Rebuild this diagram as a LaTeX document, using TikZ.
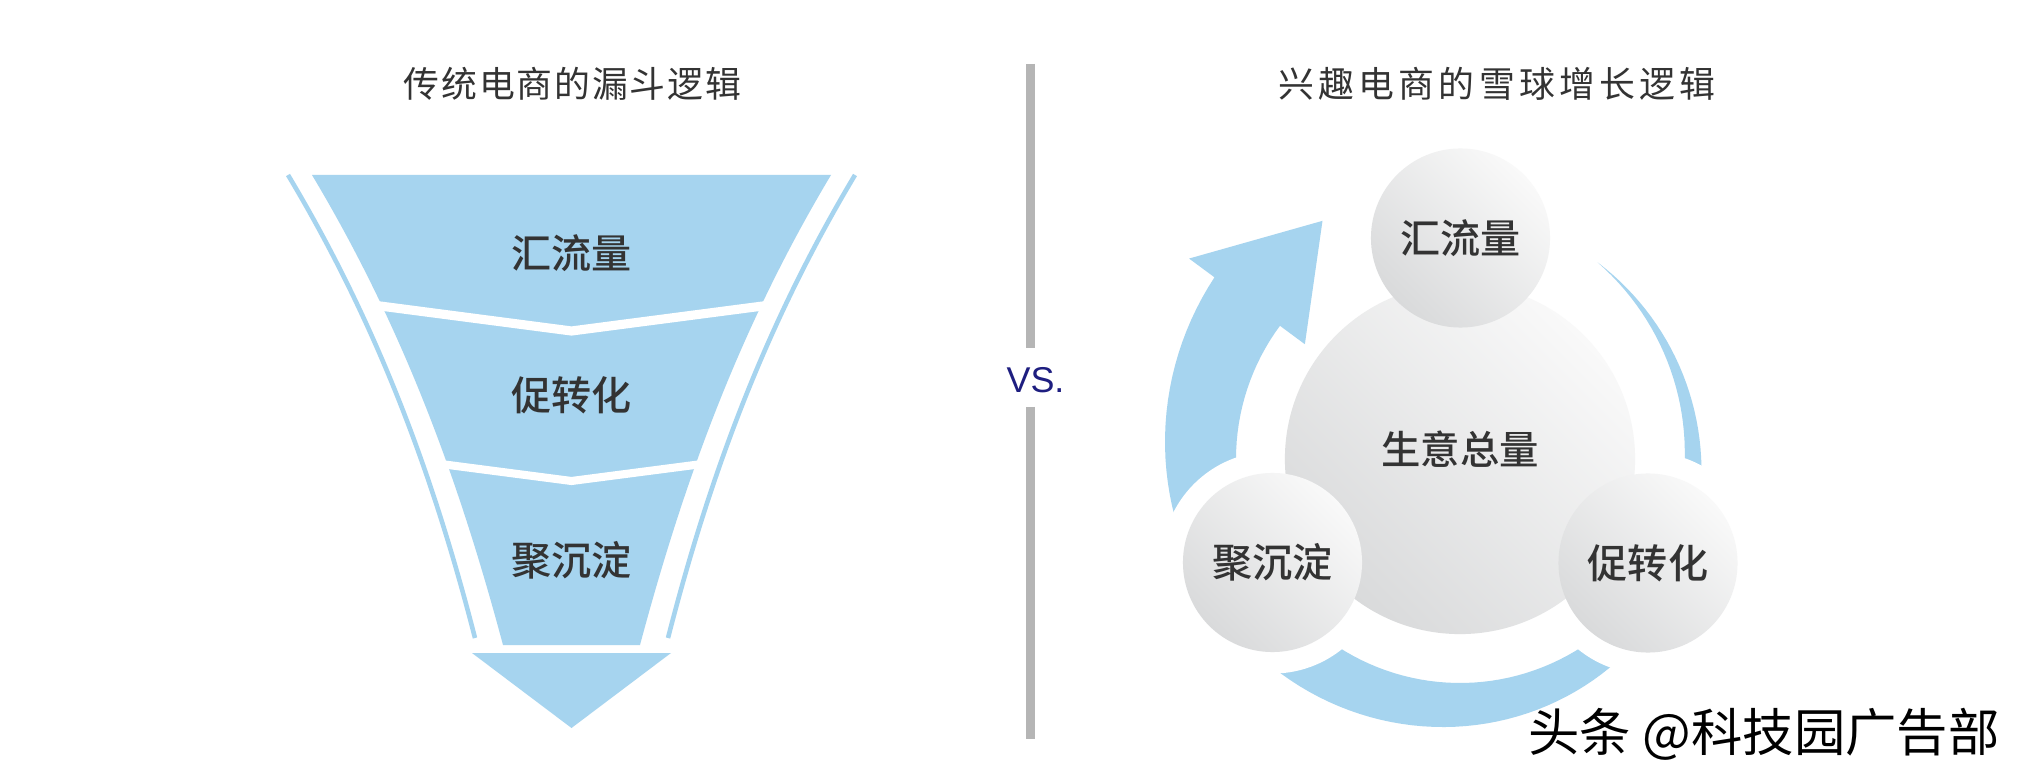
\documentclass[tikz,border=0pt]{standalone}
\usepackage{fontspec}
\setmainfont{Liberation Sans}
\newfontfamily\cjk[BoldFont={* Medium}]{Noto Sans CJK SC}
\newfontfamily\cjktitle[LetterSpace=5]{Noto Sans CJK SC}
\newfontfamily\cjkwide[LetterSpace=12]{Noto Sans CJK SC}
\usepackage{tikz}
\definecolor{flowblue}{RGB}{166,212,239}
\definecolor{inkgray}{RGB}{51,51,51}
\definecolor{bargray}{RGB}{181,181,181}
\definecolor{vsblue}{RGB}{30,30,128}
\definecolor{balllight}{RGB}{249,249,249}
\definecolor{balldark}{RGB}{217,218,219}

\begin{document}
\begin{tikzpicture}[
			x=0.01cm, y=-0.01cm,
			title/.style={text=inkgray, font=\cjktitle\fontsize{10.2pt}{12pt}\selectfont},
			layer/.style={text=inkgray, font=\cjk\bfseries\fontsize{11.4pt}{13pt}\selectfont},
			bubble/.style={circle, inner sep=0pt, minimum size=1.79cm, top color=balllight, bottom color=balldark, shading angle=-45, text=inkgray, font=\cjk\bfseries\fontsize{11.4pt}{13pt}\selectfont},
			gapdisc/.style={circle, fill=white, inner sep=0pt, minimum size=2.22cm},
			divider/.style={bargray, line width=2.6pt},
			rim/.style={flowblue, line width=1.3pt}
			]
			\fill[white] (0,0) rectangle (2026,782);
			\useasboundingbox (0,0) rectangle (2026,782);
			
			% left: funnel
			\node[title] (funneltitle) at (572.5,84) {传统电商的漏斗逻辑};
			\fill[flowblue] (312,175) -- (831,175) .. controls (737,332) and (682,488) .. (640,645) -- (503,645) .. controls (461,488) and (406,332) .. (312,175) -- cycle;
			\draw[white, line width=2.6pt] (374,305.2) -- (571.5,331) -- (769,305.2);
			\draw[white, line width=2.3pt] (438.5,463.7) -- (571.5,481) -- (704.5,463.7);
			\fill[flowblue] (472,653) -- (671,653) -- (571.5,728) -- cycle;
			\draw[rim] (288,175) .. controls (382,332) and (436,486) .. (475,638);
			\draw[rim] (855,175) .. controls (761,332) and (707,486) .. (668,638);
			\node[layer] (inflow) at (571.5,253) {汇流量};
			\node[layer] (convert) at (571.5,395) {促转化};
			\node[layer] (settle) at (571.5,560) {聚沉淀};
			
			% divider
			\node[text=vsblue, font=\fontsize{10.2pt}{12pt}\selectfont] (vs) at (1035.5,380) {VS.};
			\draw[divider] (1030.5,64) -- (1030.5,348);
			\draw[divider] (1030.5,407) -- (1030.5,739);
			
			% right: snowball
			\node[title, font=\cjkwide\fontsize{10.2pt}{12pt}\selectfont] (snowtitle) at (1497,84) {兴趣电商的雪球增长逻辑};
			\begin{scope}[shift={(1460,459)}]
				\fill[flowblue] plot[domain=305:576.5, samples=120] (\x:{224+16*(max(0,1-(\x-305)/70))^2+0.3*(\x-305)})
				-- (576.5:337) -- (600:275) -- (576.5:193)
				-- plot[domain=576.5:305, samples=120] (\x:{224+16*(max(0,1-(\x-305)/70))^2}) -- cycle;
			\end{scope}
			\coordinate (inc) at (1460.5,238);
			\coordinate (settlec) at (1272.5,562.5);
			\coordinate (convc) at (1648,563);
			\node[gapdisc] (settlegap) at (settlec) {};
			\node[gapdisc] (convgap) at (convc) {};
			\node[bubble, minimum size=3.5cm, label={[yshift=0.1cm, text=inkgray, font=\cjk\bfseries\fontsize{11.2pt}{13pt}\selectfont]center:生意总量}] (total) at (1460,459) {};
			\node[bubble] (ballin) at (inc) {汇流量};
			\node[bubble] (ballsettle) at (settlec) {聚沉淀};
			\node[bubble] (ballconv) at (convc) {促转化};
			
			\node[text=black, font=\cjk\fontsize{14.6pt}{16pt}\selectfont] (mark) at (1764,734) {头条 @科技园广告部};
		\end{tikzpicture}
\end{document}
